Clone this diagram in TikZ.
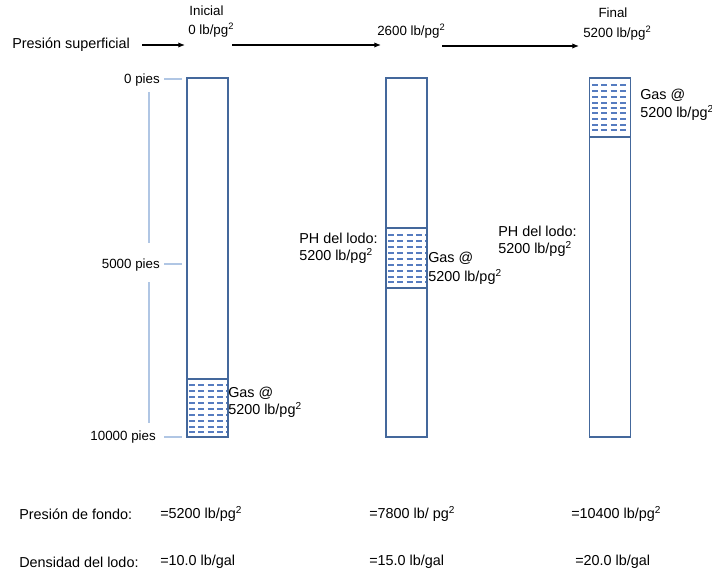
\documentclass[tikz,border=0pt]{standalone}
\usepackage{fontspec}
\setmainfont{Liberation Sans}
\usetikzlibrary{arrows.meta}
\definecolor{wellblue}{RGB}{68,104,156}
\definecolor{scaleblue}{RGB}{176,198,228}
\definecolor{gasblue}{RGB}{86,124,192}
\tikzset{
  lbl/.style={font=\fontsize{10.8}{12}\selectfont, inner sep=0pt, anchor=west, align=left},
  toplbl/.style={font=\fontsize{10}{11}\selectfont, inner sep=0pt, anchor=west, align=left},
  well/.style={draw=wellblue, line width=1.2pt, inner sep=0pt, minimum width=30.75pt, minimum height=269.25pt},
  gaszone/.style={draw=wellblue, line width=0.9pt, inner sep=0pt, minimum width=30.75pt},
  gasline/.style={draw=gasblue, line width=1.1pt, dash pattern=on 4.4pt off 2.6pt},
  scaleln/.style={draw=scaleblue, line width=1.1pt},
  arr/.style={draw=black, line width=0.9pt, -{Latex[length=5pt,width=4pt]}},
}
\begin{document}
\begin{tikzpicture}[x=0.75pt,y=-0.75pt]
\useasboundingbox (0,0) rectangle (712,573);

% top labels
\node[lbl] (pres) at (12,45) {Presión superficial};
\node[toplbl, anchor=center] (ini) at (206.5,11) {Inicial};
\node[toplbl] (p0) at (188,30) {0 lb/pg\textsuperscript{2}};
\node[toplbl] (p1) at (377,31) {2600 lb/pg\textsuperscript{2}};
\node[toplbl, anchor=center] (fin) at (613,13) {Final};
\node[toplbl] (p2) at (583,33) {5200 lb/pg\textsuperscript{2}};

\coordinate (a1s) at (142,45);
\coordinate (a1e) at (185,45);
\coordinate (a2s) at (232,45);
\coordinate (a2e) at (381,45);
\coordinate (a3s) at (442,46);
\coordinate (a3e) at (579,46);
\draw[arr] (a1s) -- (a1e);
\draw[arr] (a2s) -- (a2e);
\draw[arr] (a3s) -- (a3e);

% depth scale
\node[toplbl, anchor=east] (d0) at (160,80) {0 pies};
\node[toplbl, anchor=east] (d5) at (160,265) {5000 pies};
\node[toplbl, anchor=east] (d10) at (156,437) {10000 pies};
\coordinate (t0a) at (164,79); \coordinate (t0b) at (182,79);
\coordinate (t5a) at (164,264); \coordinate (t5b) at (182,264);
\coordinate (t10a) at (164,437); \coordinate (t10b) at (182,437);
\coordinate (v1a) at (149,92); \coordinate (v1b) at (149,243);
\coordinate (v2a) at (149,282); \coordinate (v2b) at (149,423);
\draw[scaleln] (t0a) -- (t0b);
\draw[scaleln] (t5a) -- (t5b);
\draw[scaleln] (t10a) -- (t10b);
\draw[scaleln] (v1a) -- (v1b);
\draw[scaleln] (v2a) -- (v2b);

% wells
\node[well] (w1) at (207.5,257.5) {};
\node[well] (w2) at (406.5,257.5) {};
\node[well] (w3) at (610,257.5) {};

% gas zones
\node[gaszone, minimum height=43.5pt] (g1) at (207.5,408) {};
\node[gaszone, minimum height=45pt] (g2) at (406.5,258) {};
\node[gaszone, minimum height=44.25pt] (g3) at (610,107.5) {};
\foreach \yy in {385,391,397,403,409,415,421,427,432}
  \draw[gasline] (189,\yy) -- (227,\yy);
\foreach \yy in {235,241,247,253,259,265,271,277,282}
  \draw[gasline] (388,\yy) -- (426,\yy);
\foreach \yy in {85,91,97,103,108,113,119,125,130}
  \draw[gasline] (592,\yy) -- (629,\yy);

% gas labels
\node[lbl] (gl1) at (228,393) {Gas @};
\node[lbl] (gv1) at (228,410) {5200 lb/pg\textsuperscript{2}};
\node[lbl] (ph2) at (299,238) {PH del lodo:};
\node[lbl] (phv2) at (299,256) {5200 lb/pg\textsuperscript{2}};
\node[lbl] (gl2) at (428,258) {Gas @};
\node[lbl] (gv2) at (428,277) {5200 lb/pg\textsuperscript{2}};
\node[lbl] (gl3) at (640,95) {Gas @};
\node[lbl] (gv3) at (640,113) {5200 lb/pg\textsuperscript{2}};
\node[lbl] (ph3) at (498,231) {PH del lodo:};
\node[lbl] (phv3) at (498,249) {5200 lb/pg\textsuperscript{2}};

% bottom rows
\node[lbl] (pf) at (19,514) {Presión de fondo:};
\node[lbl] (pf1) at (160,514) {=5200 lb/pg\textsuperscript{2}};
\node[lbl] (pf2) at (369,514) {=7800 lb/ pg\textsuperscript{2}};
\node[lbl] (pf3) at (571,514) {=10400 lb/pg\textsuperscript{2}};
\node[lbl] (dl) at (19,562) {Densidad del lodo:};
\node[lbl] (dl1) at (160,562) {=10.0 lb/gal};
\node[lbl] (dl2) at (369,562) {=15.0 lb/gal};
\node[lbl] (dl3) at (575,562) {=20.0 lb/gal};
\end{tikzpicture}
\end{document}
